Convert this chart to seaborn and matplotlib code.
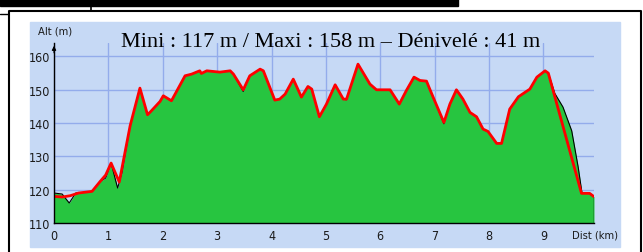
import matplotlib
matplotlib.use("Agg")
import matplotlib.pyplot as plt
from matplotlib.patches import Rectangle
from matplotlib.lines import Line2D
import seaborn as sns

# ground profile (green fill, black outline)
dist_ground = [0, 0.15, 0.28, 0.4, 0.55, 0.7, 0.85, 0.95, 1.05, 1.17, 1.25, 1.4, 1.58, 1.72,
               1.78, 1.95, 2.01, 2.16, 2.41, 2.53, 2.68, 2.71, 2.81, 3.05, 3.24, 3.3, 3.48,
               3.6, 3.79, 3.85, 4.06, 4.15, 4.25, 4.4, 4.55, 4.67, 4.74, 4.88, 5.01, 5.17,
               5.32, 5.38, 5.59, 5.81, 5.93, 6.18, 6.35, 6.48, 6.62, 6.73, 6.85, 6.91, 7.0,
               7.17, 7.28, 7.4, 7.52, 7.65, 7.77, 7.89, 7.98, 8.14, 8.23, 8.38, 8.54, 8.75,
               8.88, 9.03, 9.09, 9.21, 9.36, 9.52, 9.64, 9.71, 9.85, 9.93]
alt_ground = [119, 118.7, 116, 119, 119.2, 119.5, 122.5, 123.5, 128, 120.5, 125, 139, 150.5, 142.5,
              143.5, 146.5, 148.2, 146.7, 154.2, 154.7, 155.7, 154.9, 155.7, 155.3, 155.7, 154.7, 149.5,
              154.2, 156.2, 155.7, 146.9, 147.2, 148.7, 153.2, 147.8, 151, 150.2, 141.9, 145.7, 151.5,
              147.2, 147, 157.7, 151.7, 150, 150, 145.7, 149.8, 153.8, 152.8, 152.6, 150.2, 146.7,
              139.8, 145.7, 150, 147.2, 143.2, 141.9, 138.2, 137.5, 133.9, 133.9, 144.2, 147.9, 150.2,
              153.8, 155.7, 155, 148.9, 144.8, 137.7, 126.7, 118.9, 118.9, 117.9]

# recorded track (red line)
dist_track = [0, 0.15, 0.3, 0.45, 0.55, 0.7, 0.85, 0.95, 1.05, 1.2, 1.4, 1.58, 1.72,
              1.78, 1.95, 2.01, 2.16, 2.41, 2.53, 2.68, 2.71, 2.81, 3.05, 3.24, 3.3, 3.48,
              3.6, 3.79, 3.85, 4.06, 4.15, 4.25, 4.4, 4.55, 4.67, 4.74, 4.88, 5.01, 5.17,
              5.32, 5.38, 5.59, 5.81, 5.93, 6.18, 6.35, 6.48, 6.62, 6.73, 6.85, 6.91, 7.0,
              7.17, 7.28, 7.4, 7.52, 7.65, 7.77, 7.89, 7.98, 8.14, 8.23, 8.38, 8.54, 8.75,
              8.88, 9.03, 9.09, 9.7, 9.85, 9.93]
alt_track = [118, 117.8, 118.2, 119, 119.2, 119.5, 122.5, 124.4, 128, 122.3, 139.2, 150.5, 142.5,
             143.5, 146.5, 148.2, 146.7, 154.2, 154.7, 155.7, 154.9, 155.7, 155.3, 155.7, 154.7, 150,
             154.2, 156.2, 155.7, 146.9, 147.2, 148.7, 153.2, 147.8, 151, 150.2, 141.9, 145.7, 151.5,
             147.2, 147.2, 157.7, 151.7, 150, 150, 145.7, 149.8, 153.8, 152.8, 152.6, 150.2, 146.7,
             140.2, 145.7, 150, 147.2, 143.2, 141.9, 138.2, 137.5, 133.9, 133.9, 144.2, 147.9, 150.2,
             153.8, 155.7, 155, 118.9, 118.9, 117.9]

x_ticks = [0, 1, 2, 3, 4, 5, 6, 7, 8, 9]
y_ticks = [110, 120, 130, 140, 150, 160]
title_text = "Mini : 117 m / Maxi : 158 m – Dénivelé : 41 m"

sns.set_theme(style="white")
plt.rcParams['font.family'] = ['DejaVu Sans']
plt.rcParams['font.stretch'] = 'condensed'

W, H = 643, 253
fig = plt.figure(figsize=(6.43, 2.53), dpi=100)
fig.patch.set_facecolor('white')

def fx(px):
    return px / W

def fy(py):
    return 1 - py / H

# page decorations around the chart
fig.add_artist(Rectangle((0, fy(7)), fx(458), 7 / H, color='black', transform=fig.transFigure))
fig.add_artist(Line2D([fx(91), fx(91)], [fy(0), fy(12)], color='black', lw=1.2, transform=fig.transFigure))
fig.add_artist(Line2D([0, fx(8)], [fy(15), fy(15)], color='black', lw=1.0, transform=fig.transFigure))
fig.add_artist(Line2D([fx(9), fx(9), fx(641), fx(641)], [0, fy(12), fy(12), 0],
                      color='black', lw=1.5, transform=fig.transFigure))
# light blue panel
fig.add_artist(Rectangle((fx(30), fy(248)), 590 / W, 225 / H, color='#C6D9F5',
                         transform=fig.transFigure, zorder=0))

ax = fig.add_axes([fx(54), fy(224), 540 / W, 180 / H])
ax.set_facecolor('none')
ax.set_xlim(0, 9.93)
ax.set_ylim(110, 164.05)
ax.set_xticks(x_ticks)
ax.set_yticks(y_ticks)
ax.grid(True, color='#93ACEB', lw=1.0)
ax.set_axisbelow(True)
for s in ['top', 'right']:
    ax.spines[s].set_visible(False)
for s in ['left', 'bottom']:
    ax.spines[s].set_color('black')
    ax.spines[s].set_linewidth(1.0)
    ax.spines[s].set_zorder(5)
ax.tick_params(axis='both', length=0, labelsize=9, colors='#1a1a1a')
ax.tick_params(axis='y', pad=3)
ax.tick_params(axis='x', pad=4)

ax.fill_between(dist_ground, alt_ground, 110, color='#27C540', lw=0, zorder=2)
ax.plot(dist_ground, alt_ground, color='black', lw=0.8, zorder=2.5)
ax.vlines(dist_ground[-1], 110, alt_ground[-1], color='black', lw=1.0, zorder=2.5)
sns.lineplot(x=dist_track, y=alt_track, ax=ax, color='#FF0000', lw=2, sort=False,
             estimator=None, zorder=3)

ax.annotate('', xy=(0, 1.0), xycoords='axes fraction', xytext=(0, 0.93),
            arrowprops=dict(arrowstyle='-|>', color='black', lw=0.8, mutation_scale=6),
            annotation_clip=False)

fig.text(fx(38), fy(32), 'Alt (m)', fontsize=8, va='center', ha='left', color='#1a1a1a')
fig.text(fx(572), fy(236), 'Dist (km)', fontsize=8, va='center', ha='left', color='#1a1a1a')
fig.text(fx(331), fy(47), title_text, family=['Liberation Serif', 'DejaVu Serif'],
         fontsize=16, ha='center', va='baseline', color='black')

fig.savefig('out.png', dpi=100)
